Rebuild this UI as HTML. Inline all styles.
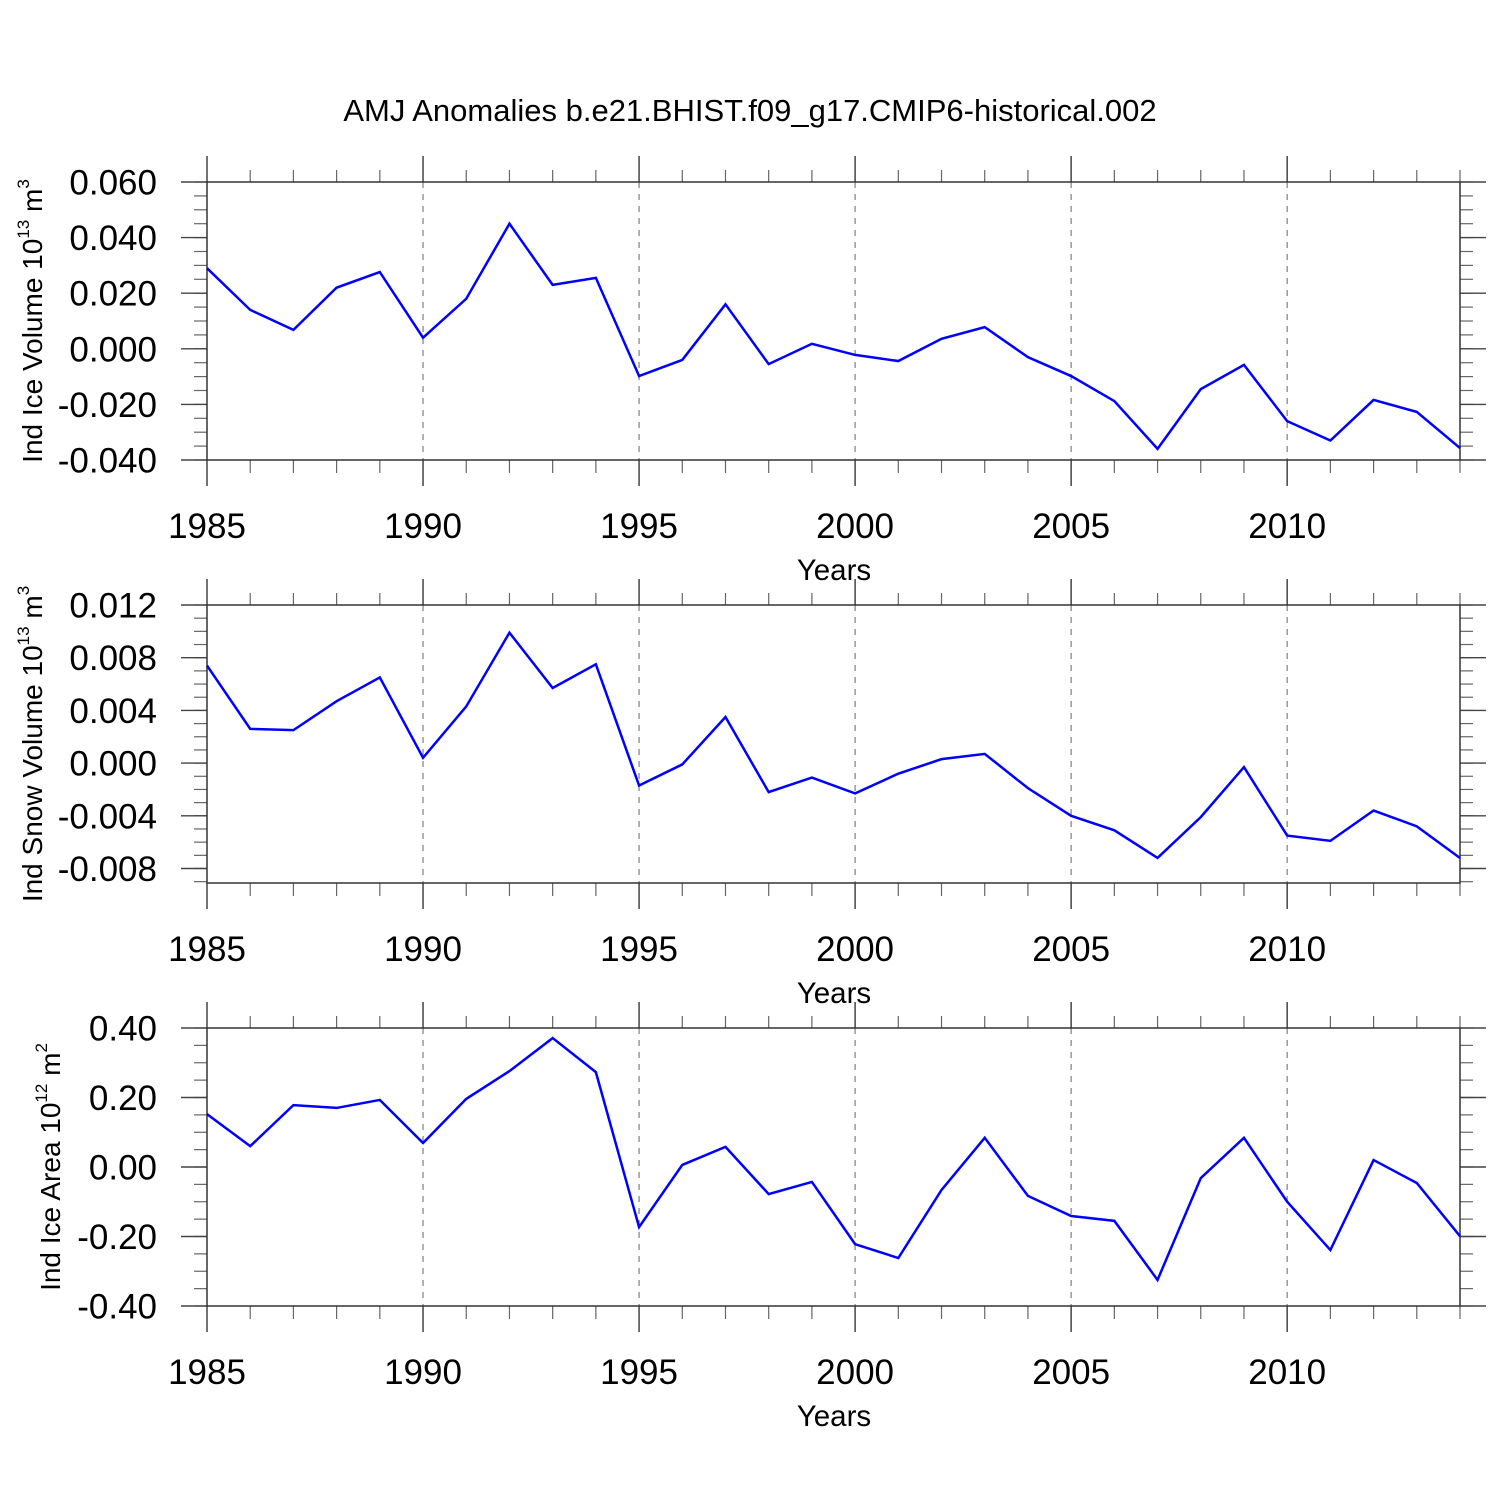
<!DOCTYPE html>
<html><head><meta charset="utf-8"><style>
body{margin:0;background:#fff}
svg{display:block;font-family:"Liberation Sans",sans-serif}
</style></head><body>
<svg id="c" width="1500" height="1500" viewBox="0 0 1500 1500">
<text x="750" y="121" font-size="31" text-anchor="middle">AMJ Anomalies b.e21.BHIST.f09_g17.CMIP6-historical.002</text>
</svg>
<script>
const years=[1985,1986,1987,1988,1989,1990,1991,1992,1993,1994,1995,1996,1997,1998,1999,2000,2001,2002,2003,2004,2005,2006,2007,2008,2009,2010,2011,2012,2013,2014];
const iceVolume=[0.029,0.014,0.0068,0.022,0.0276,0.004,0.018,0.045,0.023,0.0255,-0.0098,-0.004,0.016,-0.0055,0.0018,-0.0022,-0.0044,0.0036,0.0078,-0.003,-0.0098,-0.0188,-0.036,-0.0145,-0.0058,-0.026,-0.033,-0.0184,-0.0227,-0.0357];
const snowVolume=[0.0074,0.0026,0.0025,0.0047,0.0065,0.0004,0.0043,0.0099,0.0057,0.0075,-0.0017,-0.0001,0.0035,-0.0022,-0.0011,-0.0023,-0.0008,0.0003,0.0007,-0.0019,-0.004,-0.0051,-0.0072,-0.0041,-0.0003,-0.0055,-0.0059,-0.0036,-0.0048,-0.0072];
const iceArea=[0.152,0.06,0.178,0.17,0.193,0.069,0.196,0.276,0.371,0.273,-0.173,0.006,0.058,-0.078,-0.043,-0.222,-0.262,-0.066,0.084,-0.083,-0.141,-0.155,-0.325,-0.032,0.084,-0.1,-0.239,0.02,-0.046,-0.199];
const xTicks=[1985,1990,1995,2000,2005,2010];
const yTicks1=[0.06,0.04,0.02,0,-0.02,-0.04];
const yTicks2=[0.012,0.008,0.004,0,-0.004,-0.008];
const yTicks3=[0.4,0.2,0,-0.2,-0.4];
const svg=document.getElementById('c');
const NS='http://www.w3.org/2000/svg';
function el(t,a,p){const e=document.createElementNS(NS,t);for(const k in a)e.setAttribute(k,a[k]);(p||svg).appendChild(e);return e;}
const X0=207,X1=1460;
const xs=v=>X0+(v-1985)/(2014-1985)*(X1-X0);
function panel(idx,top,bot,ymax,ymin,ticks,minorStep,dec,vals,tname,sup,unitSup){
  const g=el('g',{});
  
  
  const ys=v=>top+(ymax-v)/(ymax-ymin)*(bot-top);
  xTicks.slice(1).forEach(t=>{const l=el('line',{x1:xs(t),x2:xs(t),y1:top,y2:bot,stroke:'#888','stroke-width':1.3,'stroke-dasharray':'6,6'},g);
    });
  for(let y=1985;y<=2014;y++){
    if(xTicks.includes(y))continue;
    el('line',{x1:xs(y),x2:xs(y),y1:top-12,y2:top,stroke:'#666','stroke-width':1.2},g);
    el('line',{x1:xs(y),x2:xs(y),y1:bot,y2:bot+13,stroke:'#666','stroke-width':1.2},g);
  }
  xTicks.forEach(t=>{
    el('line',{x1:xs(t),x2:xs(t),y1:top-26,y2:top,stroke:'#444','stroke-width':1.5},g);
    el('line',{x1:xs(t),x2:xs(t),y1:bot,y2:bot+26,stroke:'#444','stroke-width':1.5},g);
    const tx=el('text',{x:xs(t),y:bot+78,'font-size':35,'text-anchor':'middle'},g);tx.textContent=t;
    
  });
  const n=Math.round((ymax-ymin)/minorStep);
  for(let i=0;i<=n;i++){const v=ymax-i*minorStep;if(v<ymin-1e-9)break;const y=ys(v);
    el('line',{x1:X0-13,x2:X0,y1:y,y2:y,stroke:'#666','stroke-width':1.2},g);
    el('line',{x1:X1,x2:X1+13,y1:y,y2:y,stroke:'#666','stroke-width':1.2},g);}
  ticks.forEach(t=>{const y=ys(t);
    el('line',{x1:X0-26,x2:X0,y1:y,y2:y,stroke:'#444','stroke-width':1.4},g);
    el('line',{x1:X1,x2:X1+26,y1:y,y2:y,stroke:'#444','stroke-width':1.4},g);
    const tx=el('text',{x:157,y:y+12.5,'font-size':35,'text-anchor':'end'},g);
    tx.textContent=(t<0?'-':'')+Math.abs(t).toFixed(dec);
    });
  el('rect',{x:X0,y:top,width:X1-X0,height:bot-top,fill:'none',stroke:'#333','stroke-width':1.5},g);
  const pts=years.map((yr,i)=>xs(yr)+','+ys(vals[i])).join(' ');
  const pl=el('polyline',{points:pts,fill:'none',stroke:'#0000ff','stroke-width':2.5,'stroke-linejoin':'miter'},g);
  
  const xt=el('text',{x:834,y:bot+120,'font-size':29.5,'text-anchor':'middle'},g);xt.textContent='Years';
  
  const cy=(top+bot)/2;
  const yt=el('text',{x:0,y:0,'font-size':28,'text-anchor':'middle',transform:`translate(${idx==3?60:42},${cy}) rotate(-90)`},g);
  
  yt.innerHTML=tname+' 10<tspan font-size="17" dy="-13">'+sup+'</tspan><tspan dy="13"> m</tspan><tspan font-size="17" dy="-13">'+unitSup+'</tspan>';
}
panel(1,182,460,0.06,-0.04,yTicks1,0.005,3,iceVolume,'Ind Ice Volume','13','3');
panel(2,605,883,0.012,-0.0091,yTicks2,0.001,3,snowVolume,'Ind Snow Volume','13','3');
panel(3,1028,1306,0.4,-0.4,yTicks3,0.05,2,iceArea,'Ind Ice Area','12','2');
</script>
</body></html>
